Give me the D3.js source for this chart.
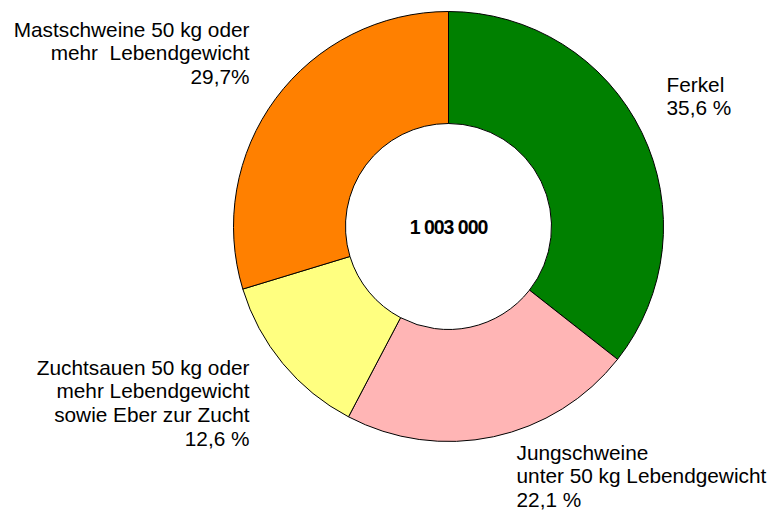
<!DOCTYPE html>
<html>
<head>
<meta charset="utf-8">
<script src="https://cdn.jsdelivr.net/npm/d3@7"></script>
<style>
  body { margin: 0; background: #fff; }
  svg text { font-family: "Liberation Sans", Arial, sans-serif; }
</style>
</head>
<body>
<div id="chart"></div>
<script>
// Data
var categories = ["Ferkel", "Jungschweine", "Zuchtsauen", "Mastschweine"];
var shares = [35.6, 22.1, 12.6, 29.7];
var labelLines = [
    ["Ferkel", "35,6 %"],
    ["Jungschweine", "unter 50 kg Lebendgewicht", "22,1 %"],
    ["Zuchtsauen 50 kg oder", "mehr Lebendgewicht", "sowie Eber zur Zucht", "12,6 %"],
    ["Mastschweine 50 kg oder", "mehr  Lebendgewicht", "29,7%"]
];
var totalLabel = "1 003 000";
var colors = ["#008000", "#FFB5B5", "#FFFF80", "#FF8000"];

// Layout (placement of the label blocks relative to the centre)
var width = 776, height = 514;
var cx = 448.5, cy = 226.5;
var outerR = 215, innerR = 103;
var labelPos = [
    { dx: 218, dy: -135, anchor: "start" },
    { dx: 68, dy: 233, anchor: "start" },
    { dx: -199, dy: 148, anchor: "end" },
    { dx: -199, dy: -190, anchor: "end" }
];
var lineH = 23.8;

var svg = d3.select("#chart").append("svg")
    .attr("width", width)
    .attr("height", height);

var g = svg.append("g")
    .attr("transform", "translate(" + cx + "," + cy + ")");

var data = categories.map(function (c, i) { return { name: c, value: shares[i], idx: i }; });

var pie = d3.pie()
    .sort(null)
    .value(function (d) { return d.value; })
    .startAngle(0)
    .endAngle(2 * Math.PI);

var arc = d3.arc()
    .innerRadius(innerR)
    .outerRadius(outerR);

g.selectAll("path.slice")
    .data(pie(data))
    .enter()
    .append("path")
    .attr("class", "slice")
    .attr("d", arc)
    .attr("fill", function (d) { return colors[d.data.idx]; })
    .attr("stroke", "#000")
    .attr("stroke-width", 1);

// Centre total
g.append("text")
    .attr("x", 0)
    .attr("y", 0)
    .attr("dy", "0.36em")
    .attr("text-anchor", "middle")
    .style("font-size", "19.5px")
    .style("font-weight", "bold")
    .style("letter-spacing", "-1px")
    .text(totalLabel);

// Slice labels
labelLines.forEach(function (lines, i) {
    var p = labelPos[i];
    var t = g.append("text")
        .attr("text-anchor", p.anchor)
        .style("font-size", "20.8px")
        .style("white-space", "pre")
        .attr("fill", "#000");
    lines.forEach(function (ln, j) {
        t.append("tspan")
            .attr("x", p.dx)
            .attr("y", p.dy + j * lineH)
            .text(ln);
    });
});
</script>
</body>
</html>
